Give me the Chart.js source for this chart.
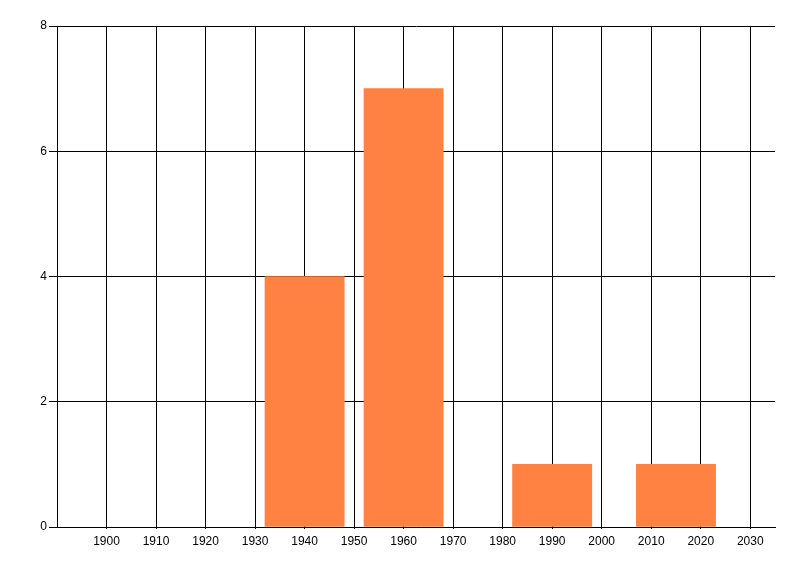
<!DOCTYPE html>
<html>
<head>
<meta charset="utf-8">
<script src="https://cdn.jsdelivr.net/npm/chart.js@4"></script>
<style>
    html, body { margin: 0; padding: 0; background: #fff; }
    #wrap { width: 800px; height: 576px; }
</style>
</head>
<body>
<div id="wrap"><canvas id="histChart" width="800" height="576"></canvas></div>
<script>
const years = [1940, 1960, 1990, 2015];
const counts = [4, 7, 1, 1];
const xTicks = [1900, 1910, 1920, 1930, 1940, 1950, 1960, 1970, 1980, 1990, 2000, 2010, 2020, 2030];
const yTicks = [0, 2, 4, 6, 8];
const binYears = 16;

const tickFont = { family: '"Liberation Sans", Arial, sans-serif', size: 12 };

// bar width follows the x scale: one bin spans binYears
const binWidth = {
    id: 'binWidth',
    beforeDatasetsDraw(chart) {
        const x = chart.scales.x;
        const w = x.getPixelForValue(x.min + binYears) - x.getPixelForValue(x.min);
        const meta = chart.getDatasetMeta(0);
        meta.data.forEach(bar => { bar.width = w; });
    }
};

const ctx = document.getElementById('histChart');
new Chart(ctx, {
    type: 'bar',
    data: {
        datasets: [{
            data: years.map((y, i) => ({ x: y, y: counts[i] })),
            backgroundColor: '#ff8242',
            borderWidth: 0,
            barPercentage: 1,
            categoryPercentage: 1
        }]
    },
    options: {
        responsive: false,
        animation: false,
        layout: { padding: { top: 26, right: 25, left: 0, bottom: 0 } },
        plugins: { legend: { display: false }, tooltip: { enabled: false } },
        scales: {
            x: {
                type: 'linear',
                offset: false,
                min: 1890,
                max: 2035,
                afterBuildTicks: scale => { scale.ticks = xTicks.map(v => ({ value: v })); },
                afterFit: scale => { scale.height = 49; },
                grid: { color: '#000', lineWidth: 1, tickLength: 2, offset: false },
                border: { color: '#000', width: 1 },
                ticks: { color: '#000', font: tickFont, padding: 5, maxRotation: 0, autoSkip: false, callback: v => String(v) }
            },
            y: {
                min: 0,
                max: 8,
                afterBuildTicks: scale => { scale.ticks = yTicks.map(v => ({ value: v })); },
                afterFit: scale => { scale.width = 57; },
                grid: { color: '#000', lineWidth: 1, tickLength: 8 },
                border: { color: '#000', width: 1 },
                ticks: { color: '#000', font: tickFont, padding: 2 }
            }
        }
    },
    plugins: [binWidth]
});
</script>
</body>
</html>
